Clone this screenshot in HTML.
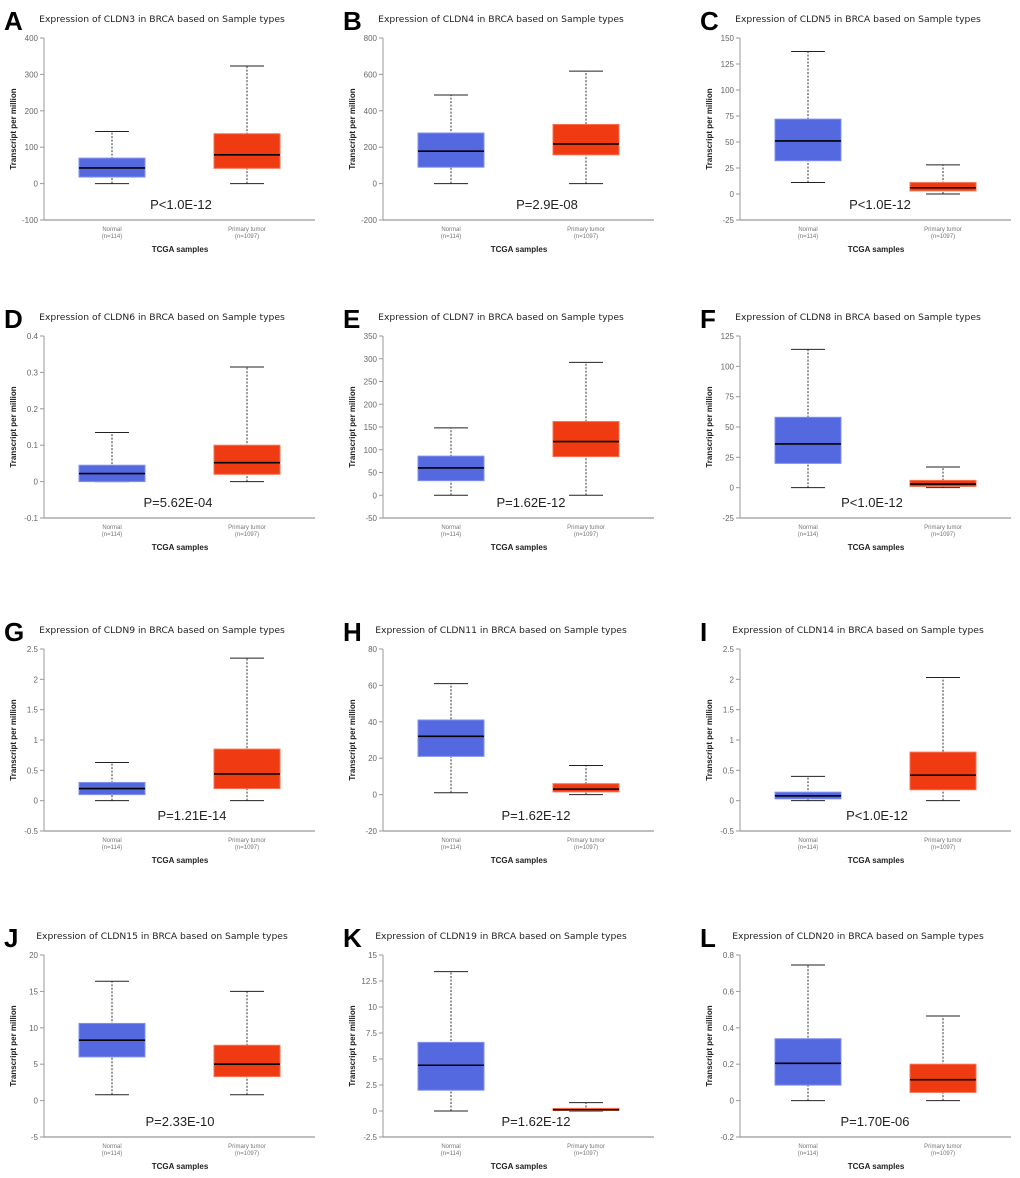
<!DOCTYPE html>
<html><head><meta charset="utf-8"><style>
body{margin:0;background:#fff;width:1020px;height:1178px;overflow:hidden}
svg{display:block}
</style></head><body>
<svg id="fig" width="1020" height="1178" xmlns="http://www.w3.org/2000/svg"></svg>
<script>
const panelLetters=["A","B","C","D","E","F","G","H","I","J","K","L"];
const genes=["CLDN3","CLDN4","CLDN5","CLDN6","CLDN7","CLDN8","CLDN9","CLDN11","CLDN14","CLDN15","CLDN19","CLDN20"];
const tickMin=[-100,-200,-25,-0.1,-50,-25,-0.5,-20,-0.5,-5,-2.5,-0.2];
const tickMax=[400,800,150,0.4,350,125,2.5,80,2.5,20,15,0.8];
const tickStep=[100,200,25,0.1,50,25,0.5,20,0.5,5,2.5,0.2];
const normalStats=[[0,18,43,70,143],[0,90,178,278,487],[11,32,51,72,137],[0,0,0.022,0.045,0.135],[0,32,60,86,148],[0,20,36,58,114],[0,0.1,0.2,0.3,0.63],[1,21,32,41,61],[0,0.03,0.08,0.14,0.4],[0.8,6,8.3,10.6,16.4],[0,2,4.4,6.6,13.4],[0,0.085,0.205,0.34,0.745]];
const tumorStats=[[0,42,79,137,323],[0,158,218,325,618],[0,3,6,11,28],[0,0.02,0.052,0.1,0.315],[0,85,118,162,292],[0,1,3,6,17],[0,0.2,0.44,0.85,2.35],[0,1.5,3,6,16],[0,0.18,0.42,0.8,2.03],[0.8,3.3,5,7.6,15],[0,0.05,0.12,0.25,0.8],[0,0.045,0.115,0.2,0.465]];
const pLabels=["P<1.0E-12","P=2.9E-08","P<1.0E-12","P=5.62E-04","P=1.62E-12","P<1.0E-12","P=1.21E-14","P=1.62E-12","P<1.0E-12","P=2.33E-10","P=1.62E-12","P=1.70E-06"];
const pX=[181,208,184,178,192,176,192,197,181,180,197,179];

const NS="http://www.w3.org/2000/svg";
const svg=document.getElementById('fig');
function mk(tag,attrs,parent,text){const e=document.createElementNS(NS,tag);for(const k in attrs)e.setAttribute(k,attrs[k]);if(text!==undefined)e.textContent=text;parent.appendChild(e);return e;}
const colX=[0,339,696];
const rowY=[0,298,611,917];
function fmt(v){let s=(Math.round(v*1000)/1000).toString();return s;}
for(let i=0;i<12;i++){
  const ox=colX[i%3], oy=rowY[Math.floor(i/3)];
  const g=mk('g',{transform:`translate(${ox},${oy})`},svg);
  
  
  const top=38,bot=220,axX=44,axEnd=315;
  const y=v=>bot-(v-tickMin[i])/(tickMax[i]-tickMin[i])*(bot-top);
  let t=mk('text',{x:4,y:30,'font-family':'Liberation Sans, sans-serif','font-size':26,'font-weight':'bold',fill:'#000'},g,panelLetters[i]);
  
  t=mk('text',{x:162,y:22,'text-anchor':'middle','font-family':'DejaVu Sans, sans-serif','font-size':9.2,fill:'#222'},g,`Expression of ${genes[i]} in BRCA based on Sample types`);
  
  let a=mk('line',{x1:axX,y1:top,x2:axX,y2:bot,stroke:'#999','stroke-width':1},g);
  
  a=mk('line',{x1:axX,y1:bot,x2:axEnd,y2:bot,stroke:'#999','stroke-width':1.2},g);
  
  const n=Math.round((tickMax[i]-tickMin[i])/tickStep[i]);
  for(let k=0;k<=n;k++){const v=tickMin[i]+k*tickStep[i];const yy=y(v);
    mk('line',{x1:axX-4,y1:yy,x2:axX,y2:yy,stroke:'#999'},g);
    const tl=mk('text',{x:axX-6,y:yy+3,'text-anchor':'end','font-family':'Liberation Sans, sans-serif','font-size':8,fill:'#666'},g,fmt(v));
    }
  t=mk('text',{transform:`translate(16,129) rotate(-90)`,'text-anchor':'middle','font-family':'Liberation Sans, sans-serif','font-size':8,'font-weight':'bold',fill:'#222'},g,'Transcript per million');
  
  const groups=[[112,normalStats[i],'#5468e0','#8090f0','Normal','(n=114)'],[247,tumorStats[i],'#f03a12','#f87050','Primary tumor','(n=1097)']];
  groups.forEach(([cx,s,fill,edge,lab,nn],gi)=>{
    const w=mk('line',{x1:cx,y1:y(s[0]),x2:cx,y2:y(s[4]),stroke:'#333','stroke-dasharray':'2,1.5','stroke-width':1},g);
    
    mk('line',{x1:cx-17,y1:y(s[0]),x2:cx+17,y2:y(s[0]),stroke:'#222','stroke-width':1},g);
    mk('line',{x1:cx-17,y1:y(s[4]),x2:cx+17,y2:y(s[4]),stroke:'#222','stroke-width':1},g);
    const b=mk('rect',{x:cx-33,y:y(s[3]),width:66,height:Math.max(1,y(s[1])-y(s[3])),fill:fill,stroke:edge,'stroke-width':1},g);
    
    const m=mk('line',{x1:cx-33,y1:y(s[2]),x2:cx+33,y2:y(s[2]),stroke:'#000','stroke-width':1.6},g);
    
    let xl=mk('text',{x:cx,y:231,'text-anchor':'middle','font-family':'Liberation Sans, sans-serif','font-size':6,fill:'#777'},g,lab);
    
    mk('text',{x:cx,y:238,'text-anchor':'middle','font-family':'Liberation Sans, sans-serif','font-size':6,fill:'#777'},g,nn);
  });
  t=mk('text',{x:180,y:252,'text-anchor':'middle','font-family':'Liberation Sans, sans-serif','font-size':8,'font-weight':'bold',fill:'#222'},g,'TCGA samples');
  
  t=mk('text',{x:pX[i],y:209,'text-anchor':'middle','font-family':'Liberation Sans, sans-serif','font-size':13,fill:'#222'},g,pLabels[i]);
  
}
</script>
</body></html>
